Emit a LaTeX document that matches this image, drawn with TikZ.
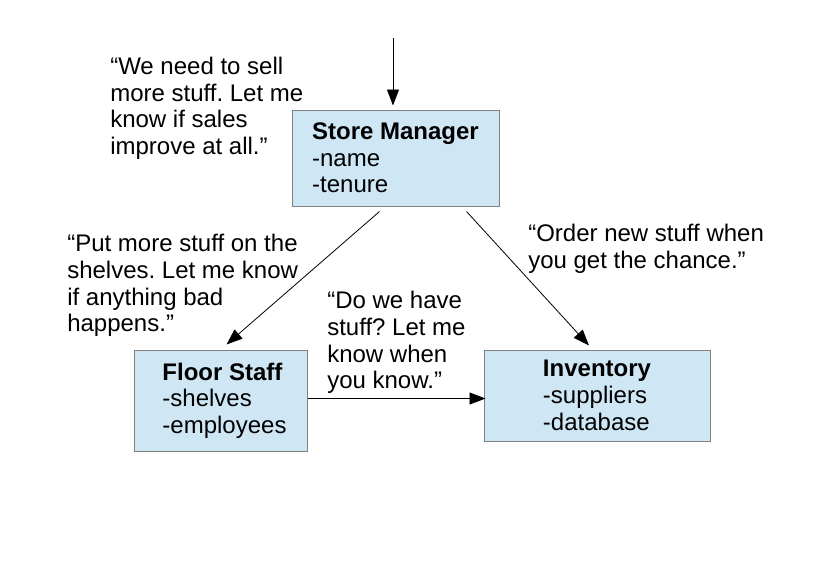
\documentclass[tikz,border=0pt]{standalone}
\usepackage{fontspec}
\setmainfont{Liberation Sans}
\usetikzlibrary{arrows.meta,positioning,calc}
\definecolor{boxblue}{HTML}{CFE7F5}
\tikzset{>={Triangle[length=12pt,width=9pt]}}
\frenchspacing

\begin{document}
\begin{tikzpicture}[x=0.75pt,y=-0.75pt,
   font=\fontsize{18}{20}\selectfont,
   cls/.style={draw=black!50,fill=boxblue,line width=0.75pt,align=left,inner sep=0},
   msg/.style={anchor=north west,align=left,inner sep=0},
   up/.style={->,line width=0.6pt}]
  \useasboundingbox[fill=white] (0,0) rectangle (816,576);
  \coordinate (in) at (393,38);
  \node[cls,minimum width=155.25pt,minimum height=72pt] (sm) at (395.5,158) {\textbf{Store Manager}\\-name\\-tenure};
  \node[cls,minimum width=129.75pt,minimum height=75.75pt] (fs) at (220.5,400.5) {\hspace*{6pt}\textbf{Floor Staff}\\\hspace*{6pt}-shelves\\\hspace*{6pt}-employees};
  \node[cls,minimum width=169.5pt,minimum height=68.25pt] (inv) at (597,395.5) {\textbf{Inventory}\\-suppliers\\-database};
  \node[msg] (msell) at (110,57) {“We need to sell\\more stuff. Let me\\know if sales\\improve at all.”};
  \node[msg] (mput) at (67,234) {“Put more stuff on the\\shelves. Let me know\\if anything bad\\happens.”};
  \node[msg] (mhave) at (327,291) {“Do we have\\stuff? Let me\\know when\\you know.”};
  \node[msg] (morder) at (528,224) {“Order new stuff when\\you get the chance.”};
  \draw[up,shorten >=3pt] (in) -- (in |- sm.north);
  \draw[up] ($(sm.south)+(-16,5)$) -- ($(fs.north)+(6,-5)$);
  \draw[up] ($(sm.south)+(71,5)$) -- ($(inv.north)+(-8,-4)$);
  \draw[up] ($(fs.east)+(0,-2)$) -- ($(fs.east -| inv.west)+(2,-2)$);
\end{tikzpicture}
\end{document}
